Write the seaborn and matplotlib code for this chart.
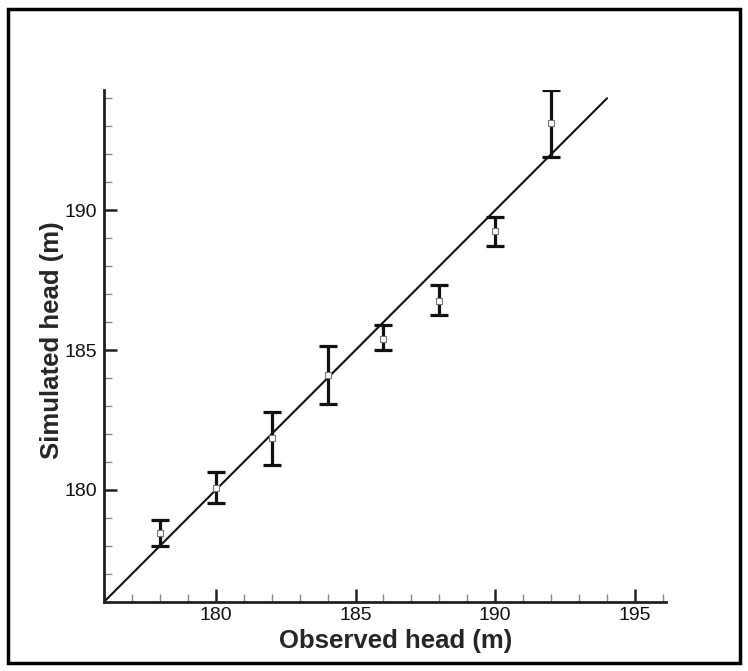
import numpy as np
import pandas as pd
import matplotlib
matplotlib.use('Agg')
import matplotlib.pyplot as plt
import seaborn as sns
from matplotlib.patches import Rectangle
from matplotlib.ticker import MultipleLocator

sns.set_style('ticks')
plt.rcParams['font.family'] = ['Liberation Sans', 'DejaVu Sans']

# 数据
observed = [178, 180, 182, 184, 186, 188, 190, 192]
simulated = [178.45, 180.08, 181.85, 184.1, 185.4, 186.75, 189.24, 193.13]
err_low = [178.0, 179.53, 180.88, 183.08, 185.0, 186.24, 188.73, 191.9]
err_high = [178.94, 180.64, 182.8, 185.15, 185.9, 187.32, 189.76, 194.29]
line_x = [176, 194]
line_y = [176, 194]

df = pd.DataFrame({'obs': observed, 'sim': simulated})
yerr = [np.array(simulated) - np.array(err_low), np.array(err_high) - np.array(simulated)]

fig = plt.figure(figsize=(7.48, 6.71), dpi=100)
ax = fig.add_axes([0.139, 0.103, 0.751, 0.763])

sns.lineplot(x=line_x, y=line_y, ax=ax, color='#111111', linewidth=1.5)
ax.errorbar(observed, simulated, yerr=yerr, fmt='none', ecolor='#111111',
            elinewidth=2.3, capsize=6.5, capthick=2.3, zorder=3)
sns.scatterplot(data=df, x='obs', y='sim', ax=ax, marker='s', s=14,
                color='white', edgecolor='#777777', linewidth=0.8, zorder=4)

ax.set_xlim(176, 196.1)
ax.set_ylim(176, 194.3)
ax.xaxis.set_minor_locator(MultipleLocator(1))
ax.yaxis.set_minor_locator(MultipleLocator(1))
ax.set_xticks([180, 185, 190, 195])
ax.set_yticks([180, 185, 190])

sns.despine(ax=ax)
for s in ['left', 'bottom']:
    ax.spines[s].set_linewidth(2)
    ax.spines[s].set_color('#222222')

ax.tick_params(which='major', direction='in', length=9.5, width=1.8, color='#222222',
               labelsize=14, pad=5, labelcolor='#111111')
ax.tick_params(axis='x', which='major', pad=4)
ax.tick_params(which='minor', direction='in', length=5.5, width=1, color='#888888')

ax.set_xlabel('Observed head (m)', fontsize=18.5, fontweight='bold')
ax.set_ylabel('Simulated head (m)', fontsize=18.5, fontweight='bold')
ax.xaxis.set_label_coords(0.52, -0.053)
ax.yaxis.set_label_coords(-0.071, 0.512)

fig.patches.append(Rectangle((0.011, 0.012), 0.978, 0.975, transform=fig.transFigure,
                             fill=False, edgecolor='black', linewidth=2.5))

plt.savefig('out.png', dpi=100)
